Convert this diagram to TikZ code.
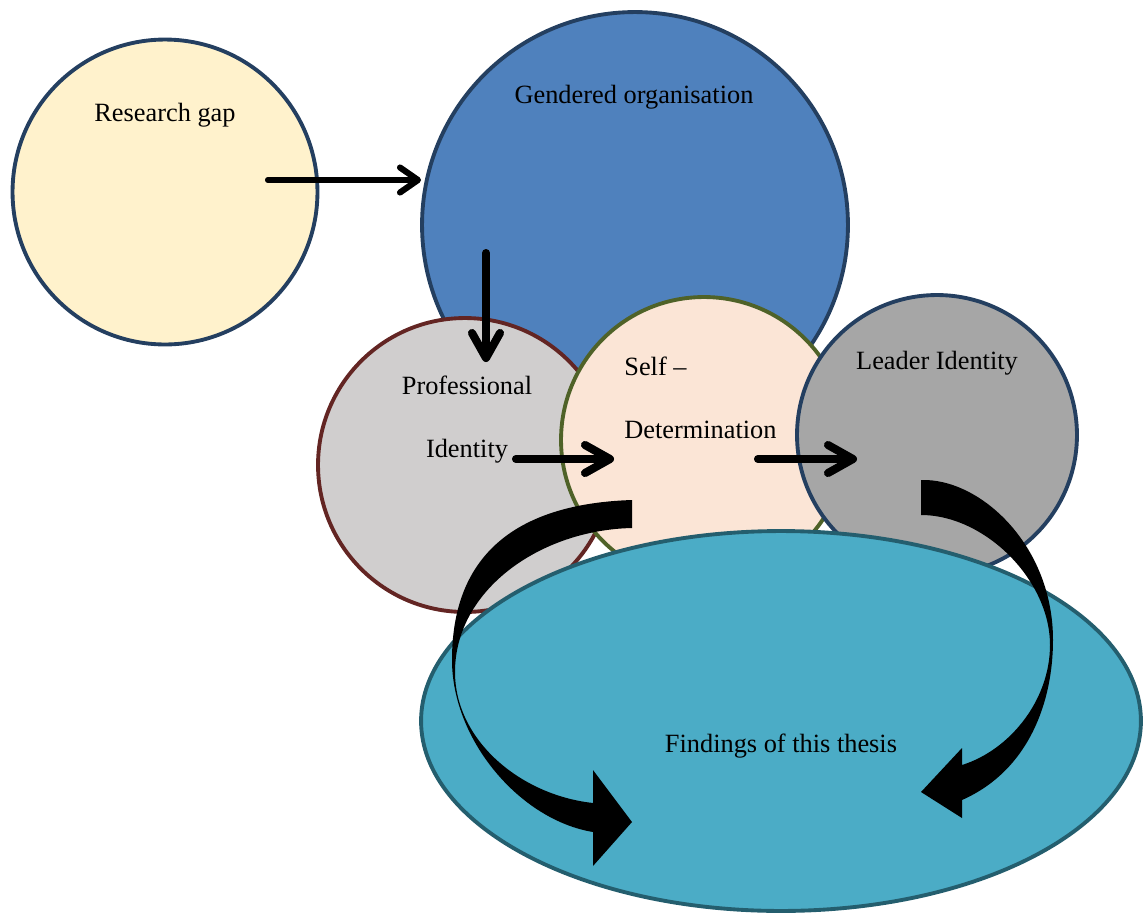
\documentclass[tikz,border=0pt]{standalone}
\usepackage{fontspec}
\setmainfont{Liberation Serif}
\usetikzlibrary{arrows.meta,shapes.geometric}

\definecolor{navyline}{HTML}{243F60}
\definecolor{gapfill}{HTML}{FFF2CC}
\definecolor{orgfill}{HTML}{4F81BD}
\definecolor{proffill}{HTML}{D0CECE}
\definecolor{profline}{HTML}{632523}
\definecolor{selffill}{HTML}{FBE5D6}
\definecolor{selfline}{HTML}{4F6228}
\definecolor{leadfill}{HTML}{A6A6A6}
\definecolor{findfill}{HTML}{4BACC6}
\definecolor{findline}{HTML}{245E6E}
\definecolor{shadowgray}{HTML}{7A7A7A}

\begin{document}
\begin{tikzpicture}[x=0.02cm,y=0.02cm,
  bubble/.style={circle, inner sep=0pt, line width=2.2pt},
  lbl/.style={font=\fontsize{15}{18}\selectfont, inner sep=0pt, anchor=base},
  thinflow/.style={line width=0.12cm, line cap=round, line join=round,
    -{Straight Barb[round, length=0.36cm, width=0.5cm]}},
  bigflow/.style={line width=0.16cm, line cap=round, line join=round,
    -{Straight Barb[round, length=0.5cm, width=0.56cm]}},
  flowshadow/.style={draw=shadowgray, opacity=0.8},
  blockarrow/.style={fill=black}
]
\useasboundingbox (0,0) rectangle (1144,-917);

% circles, back to front
\node[bubble, draw=navyline, fill=gapfill, minimum size=6.1cm] (gap) at (165,-192) {};
\node[bubble, draw=navyline, fill=orgfill, minimum size=8.52cm] (org) at (635,-225) {};
\node[bubble, draw=profline, fill=proffill, minimum size=5.88cm] (prof) at (465,-465) {};
\node[bubble, draw=selfline, fill=selffill, minimum size=5.72cm] (self) at (704,-440) {};
\node[bubble, draw=navyline, fill=leadfill, minimum size=5.6cm] (lead) at (937,-435) {};
\node[ellipse, inner sep=0pt, line width=2.2pt, draw=findline, fill=findfill,
      minimum width=14.4cm, minimum height=7.6cm] (find) at (781,-721) {};

% labels
\node[lbl] (gaptxt) at (165,-121) {Research gap};
\node[lbl] (orgtxt) at (634,-103) {Gendered organisation};
\node[lbl] (proftxt1) at (467,-394) {Professional};
\node[lbl] (proftxt2) at (467,-457) {Identity};
\node[lbl, anchor=base west] (selftxt1) at (624,-375) {Self –};
\node[lbl, anchor=base west] (selftxt2) at (624,-438) {Determination};
\node[lbl] (leadtxt) at (937,-369) {Leader Identity};
\node[lbl] (findtxt) at (781,-752) {Findings of this thesis};

% ends of the straight flow arrows
\coordinate (a1s) at (268,-180);  \coordinate (a1e) at (421,-180);
\coordinate (a2s) at (486,-253);  \coordinate (a2e) at (486,-362);
\coordinate (a3s) at (516,-459);  \coordinate (a3e) at (614,-459);
\coordinate (a4s) at (758,-459);  \coordinate (a4e) at (857,-459);

% drop shadows of the straight arrows
\begin{scope}[shift={(3,-4)}]
  \draw[thinflow, flowshadow] (a1s) -- (a1e);
  \draw[bigflow, flowshadow] (a2s) -- (a2e);
  \draw[bigflow, flowshadow] (a3s) -- (a3e);
  \draw[bigflow, flowshadow] (a4s) -- (a4e);
\end{scope}

% straight arrows
\draw[thinflow] (a1s) -- (a1e);
\draw[bigflow] (a2s) -- (a2e);
\draw[bigflow] (a3s) -- (a3e);
\draw[bigflow] (a4s) -- (a4e);

% curved block arrow on the left
\fill[blockarrow] (632,-500)
  .. controls (480,-505) and (452,-590) .. (452,-660)
  .. controls (452,-740) and (520,-820) .. (593,-832)
  -- (593,-866) -- (632,-822) -- (593,-770) -- (593,-803)
  .. controls (520,-795) and (455,-740) .. (455,-672)
  .. controls (455,-590) and (540,-530) .. (632,-528)
  -- cycle;

% curved block arrow on the right
\fill[blockarrow] (921,-480)
  .. controls (980,-478) and (1053,-545) .. (1053,-640)
  .. controls (1053,-700) and (1030,-770) .. (962,-800)
  -- (962,-818) -- (921,-792) -- (962,-748) -- (962,-765)
  .. controls (1010,-750) and (1050,-700) .. (1050,-645)
  .. controls (1050,-580) and (985,-515) .. (921,-515)
  -- cycle;
\end{tikzpicture}
\end{document}
